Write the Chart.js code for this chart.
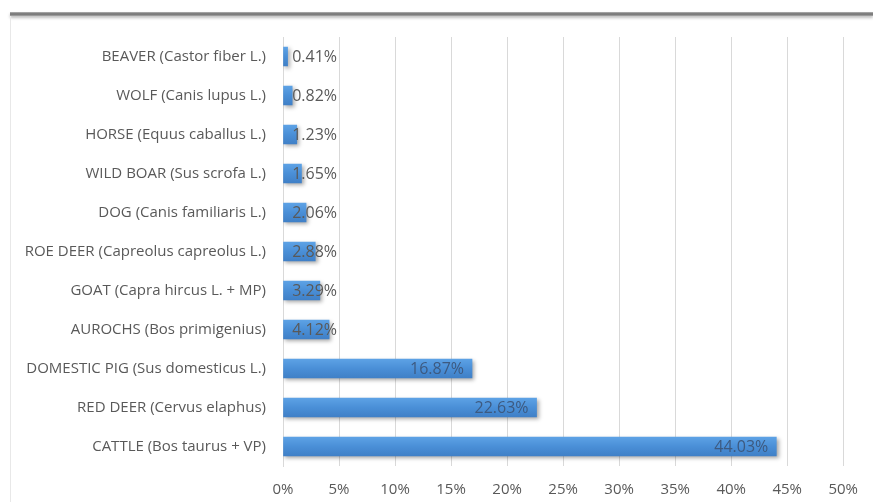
<!DOCTYPE html>
<html>
<head>
<meta charset="utf-8">
<script src="https://cdn.jsdelivr.net/npm/chart.js@4/dist/chart.umd.min.js"></script>
<style>
html,body{margin:0;padding:0;background:#fff;}
#wrap{position:relative;width:873px;height:502px;overflow:hidden;}
#topbar{position:absolute;left:10px;top:12px;width:863px;height:4px;background:linear-gradient(#b4b4b4,#6e6e6e,#a8a8a8);box-shadow:0 2px 3px rgba(0,0,0,0.25);}
#leftline{position:absolute;left:10px;top:16px;width:1px;height:486px;background:#e8e8e8;}
#c{position:absolute;left:0;top:0;}
</style>
</head>
<body>
<div id="wrap">
<div id="topbar"></div>
<div id="leftline"></div>
<canvas id="c" width="873" height="502"></canvas>
</div>
<script>
const especies=["BEAVER (Castor fiber L.)","WOLF (Canis lupus L.)","HORSE (Equus caballus L.)","WILD BOAR (Sus scrofa L.)","DOG (Canis familiaris L.)","ROE DEER (Capreolus capreolus L.)","GOAT (Capra hircus L. + MP)","AUROCHS (Bos primigenius)","DOMESTIC PIG (Sus domesticus L.)","RED DEER (Cervus elaphus)","CATTLE (Bos taurus + VP)"];
const percentuais=[0.41,0.82,1.23,1.65,2.06,2.88,3.29,4.12,16.87,22.63,44.03];
const eixoMin=0,eixoMax=50,eixoPasso=5;

const fonte="'Open Sans', 'DejaVu Sans', sans-serif";

const sombra={
id:"sombra",
beforeDatasetsDraw(chart){
let c=chart.ctx;c.save();
c.shadowColor="rgba(0,0,0,0.35)";c.shadowBlur=4;c.shadowOffsetX=2;c.shadowOffsetY=2;
},
afterDatasetsDraw(chart){
chart.ctx.restore();
let c=chart.ctx;
let meta=chart.getDatasetMeta(0);
let x0=chart.scales.x.getPixelForValue(0);
c.save();
c.font="16px "+fonte;
c.textBaseline="middle";
c.textAlign="right";
meta.data.forEach((bar,i)=>{
let v=percentuais[i];
let txt=v.toFixed(2)+"%";
if(v>10){
c.fillStyle="#3d5a80";
c.fillText(txt,bar.x-8,bar.y+1);
}else{
c.fillStyle="#595959";
c.fillText(txt,Math.max(bar.x-3,x0+54),bar.y+1);
}
});
c.restore();
}
};

new Chart(document.getElementById("c"),{
type:"bar",
data:{labels:especies,datasets:[{
data:percentuais,
backgroundColor:ctx=>{
let ch=ctx.chart;
if(!ch.chartArea||!ch.scales.y)return "#4a8fd7";
let y=ch.scales.y.getPixelForValue(ctx.dataIndex);
let g=ch.ctx.createLinearGradient(0,y-10,0,y+10);
g.addColorStop(0,"#5ea3e6");
g.addColorStop(0.5,"#4a8fd7");
g.addColorStop(1,"#3f7fc6");
return g;
},
borderWidth:0,
barThickness:19
}]},
options:{
responsive:false,
animation:false,
indexAxis:"y",
layout:{padding:{left:0,right:28,top:37,bottom:0}},
plugins:{legend:{display:false},tooltip:{enabled:false}},
scales:{
x:{
min:eixoMin,max:eixoMax,
afterFit:s=>{s.height=36;},
ticks:{stepSize:eixoPasso,callback:v=>v+"%",color:"#595959",font:{family:fonte,size:15},padding:15,maxRotation:0,minRotation:0},
grid:{color:"#d9d9d9",drawTicks:false},
border:{display:false}
},
y:{
afterFit:s=>{s.width=283;},
ticks:{color:"#595959",font:{family:fonte,size:15},padding:17},
grid:{display:false,drawTicks:false},
border:{display:true,color:"#d9d9d9"}
}
}
},
plugins:[sombra]
});
</script>
</body>
</html>
